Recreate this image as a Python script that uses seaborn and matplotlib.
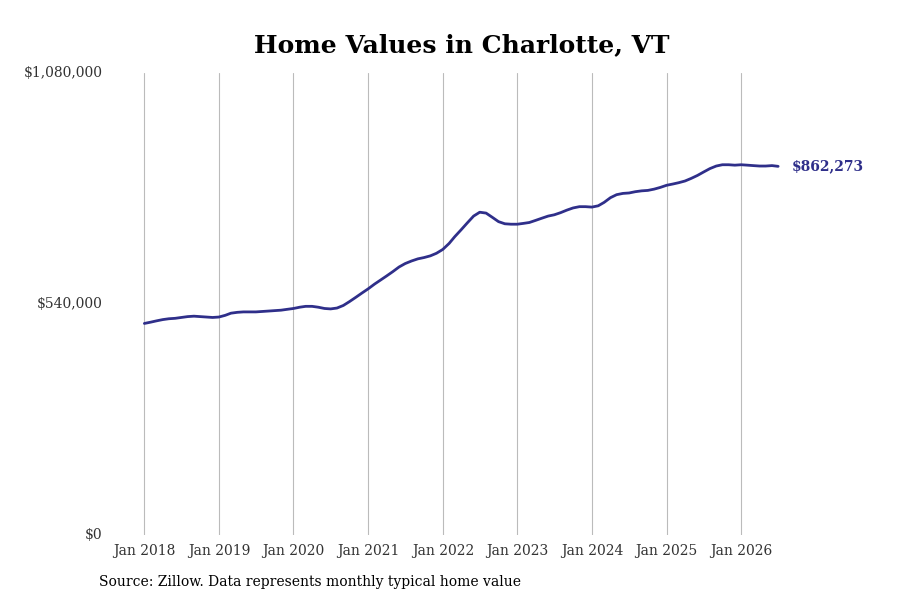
import matplotlib
matplotlib.use("Agg")
import matplotlib.pyplot as plt
import seaborn as sns
import pandas as pd
import numpy as np

values_k = [
 495,498,501,504,506,507,509,511,512,511,510,509,
 510,514,519,521,522,522,522,523,524,525,526,528,
 530,533,535,535,533,530,529,531,537,546,556,566,
 576,587,596,606,616,627,635,641,646,649,653,659,
 668,682,698,714,730,746,755,753,743,733,728,727,
 727,729,731,736,741,746,749,754,760,765,768,768,
 767,770,778,789,796,799,800,803,805,806,809,813,
 818,821,824,828,834,841,849,857,863,866,866,865,
 866,865,864,863,863,864,862.273,
]
dates = pd.date_range("2018-01-01", periods=len(values_k), freq="MS")
values = [v * 1000 for v in values_k]
tick_years = list(range(2018, 2027))
ytick_vals = [0, 540000, 1080000]
ytick_labels = ["$0", "$540,000", "$1,080,000"]
color = "#2f2f8a"

sns.set_theme(style="white")
plt.rcParams['font.family'] = ['DejaVu Serif']

fig = plt.figure(figsize=(9, 6), dpi=100)
ax = fig.add_axes([0.12, 0.108, 0.78, 0.77])
df = pd.DataFrame({"date": dates, "value": values})
sns.lineplot(data=df, x="date", y="value", ax=ax, color=color, linewidth=2)

ax.set_ylim(0, 1080000)
ax.set_xlim(pd.Timestamp("2017-07-07"), pd.Timestamp("2026-12-04"))
ax.set_yticks(ytick_vals)
ax.set_yticklabels(ytick_labels, fontsize=10, color="#333333")
xt = [pd.Timestamp(f"{y}-01-01") for y in tick_years]
ax.set_xticks(xt)
ax.set_xticklabels([f"Jan {y}" for y in tick_years], fontsize=10, color="#333333")
ax.tick_params(axis="y", length=0, pad=4)
ax.tick_params(axis="x", length=0, pad=6)
for lab in ax.get_yticklabels():
    lab.set_verticalalignment("center")
ax.grid(axis="x", color="#bbbbbb", linewidth=0.8)
ax.grid(axis="y", visible=False)
for s in ax.spines.values():
    s.set_visible(False)
ax.set_xlabel("")
ax.set_ylabel("")
ax.annotate("$862,273", xy=(dates[-1], values[-1]), xytext=(10, 0),
            textcoords="offset points", va="center", ha="left",
            fontsize=10, fontweight="bold", color=color)
fig.text(0.513, 0.925, "Home Values in Charlotte, VT", ha="center", va="center",
         fontsize=18, fontweight="bold", color="black")
fig.text(0.11, 0.03, "Source: Zillow. Data represents monthly typical home value",
         ha="left", va="center", fontsize=10, color="black")
fig.savefig("out.png", dpi=100)
